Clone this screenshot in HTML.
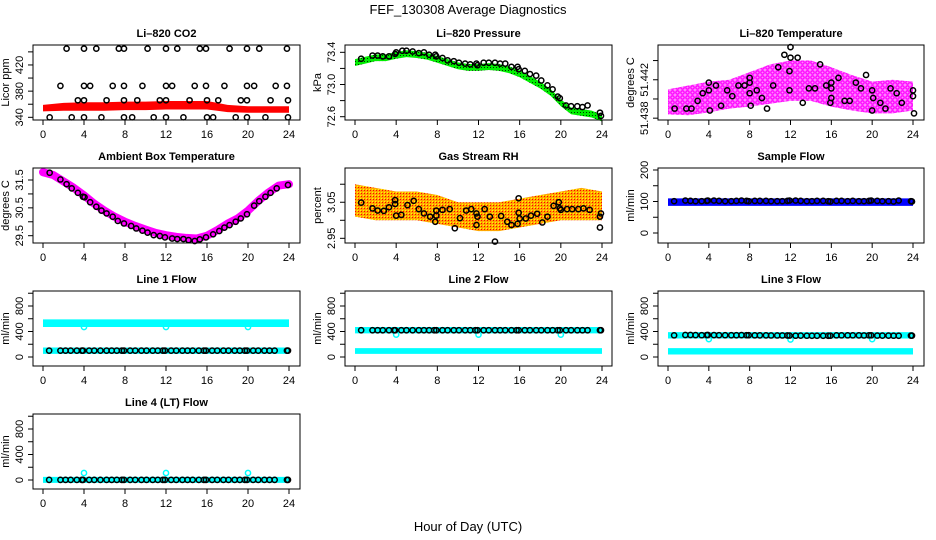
<!DOCTYPE html>
<html><head><meta charset="utf-8"><style>
body{margin:0;background:#fff;}
svg{display:block;font-family:"Liberation Sans",sans-serif;}
</style></head><body>
<svg id="chart" width="936" height="540" viewBox="0 0 936 540" xmlns="http://www.w3.org/2000/svg">
<defs>
<pattern id="pMag" width="5" height="5" patternUnits="userSpaceOnUse"><rect width="5" height="5" fill="#ff88ff"/><circle cx="2.5" cy="2.5" r="1.7" fill="none" stroke="#ff00ff" stroke-width="1.3"/></pattern>
<pattern id="pOr" width="3" height="3" patternUnits="userSpaceOnUse"><rect width="3" height="3" fill="#ffa500"/><rect x="1" y="1" width="1" height="1" fill="#ff0000"/><rect x="0" y="0" width="1" height="1" fill="#ffff00"/></pattern>
<pattern id="pGr" width="3" height="3" patternUnits="userSpaceOnUse"><rect width="3" height="3" fill="#00ee00"/><rect x="1" y="1" width="1" height="1" fill="#003300"/></pattern>
</defs>
<text x="468" y="14" text-anchor="middle" font-size="13">FEF_130308  Average Diagnostics</text>
<text x="468" y="531" text-anchor="middle" font-size="13">Hour of Day (UTC)</text>
</svg>
<script>
// ---- data ----
const co2Hours=[2.3,4.0,5.2,7.4,7.9,10.2,12.0,13.1,15.3,15.9,18.2,19.9,21.1,23.8,1.7,4.0,4.6,6.8,7.9,9.7,12.0,12.6,14.8,15.9,17.7,19.9,20.6,22.7,23.8,3.4,4.0,6.2,7.9,9.2,11.4,12.0,14.3,16.0,17.1,19.3,19.9,22.2,23.9,0.65,2.8,4.0,5.7,7.9,8.7,10.8,12.0,13.7,16.0,16.6,18.8,19.9,21.7,23.9];
const co2Values=[445,445,445,445,445,445,445,445,445,445,445,445,445,445,388,388,388,388,388,388,388,388,388,388,388,388,388,388,388,366,366,366,366,366,366,366,366,366,366,366,366,366,366,340,340,340,340,340,340,340,340,340,340,340,340,340,340,340];
const co2BandHours=[0,2,4,6,8,10,12,14,16,17,18,20,22,24];
const co2BandLow=[349,350,350,350,351,351,352,352,352,350,348,347,347,347];
const co2BandHigh=[359,362,363,363,364,364,365,365,365,362,359,357,357,357];

const presHours=[0.6,1.7,2.2,2.7,3.3,3.9,4.0,4.6,5.0,5.6,6.2,6.7,7.2,7.8,7.9,8.5,9.0,9.6,10.1,10.7,11.2,11.8,11.9,12.5,13.0,13.6,14.1,14.6,15.2,15.8,15.9,16.5,17.0,17.6,18.1,18.7,19.2,19.7,19.9,20.5,21.0,21.6,22.1,22.6,23.8,23.9];
const presValues=[73.32,73.36,73.36,73.35,73.35,73.38,73.40,73.42,73.42,73.41,73.39,73.40,73.37,73.37,73.35,73.33,73.30,73.29,73.27,73.26,73.25,73.26,73.24,73.27,73.27,73.27,73.26,73.26,73.22,73.22,73.19,73.17,73.13,73.11,73.05,72.99,72.94,72.85,72.83,72.74,72.73,72.73,72.72,72.74,72.65,72.61];
const presBandHours=[0,1,2,3,4,5,6,7,8,9,10,11,12,13,14,15,16,17,18,19,20,21,22,23,24];
const presBandMid=[73.28,73.31,73.34,73.34,73.37,73.39,73.38,73.36,73.32,73.28,73.24,73.22,73.22,73.23,73.22,73.19,73.14,73.07,73.00,72.91,72.78,72.68,72.66,72.64,72.59];

const tempHours=[0.65,1.8,2.3,2.9,3.4,4.0,4.0,4.1,4.7,5.2,5.8,6.3,6.9,7.5,8.0,8.0,8.0,8.1,8.7,9.2,9.7,10.3,10.8,11.4,11.9,12.0,12.0,11.9,12.7,13.2,13.8,14.4,14.9,15.5,16.0,16.0,16.0,15.9,16.7,17.3,17.8,18.4,18.9,19.4,20.0,20.1,20.0,20.8,21.3,21.8,22.4,22.9,24.0,24.0,24.1];
const tempValues=[51.4390,51.4390,51.4390,51.4398,51.4406,51.4417,51.4409,51.4388,51.4414,51.4393,51.4409,51.4403,51.4414,51.4414,51.4417,51.4422,51.4406,51.4393,51.4409,51.4401,51.4390,51.4414,51.4433,51.4446,51.4429,51.4443,51.4454,51.4409,51.4443,51.4396,51.4411,51.4411,51.4436,51.4414,51.4417,51.4411,51.4401,51.4396,51.4422,51.4398,51.4398,51.4417,51.4411,51.4425,51.4409,51.4401,51.4388,51.4396,51.4390,51.4411,51.4406,51.4396,51.4409,51.4403,51.4385];
const tempBandHours=[0,2,4,6,8,10,12,14,16,18,20,22,24];
const tempBandLow=[51.4384,51.4383,51.4386,51.4390,51.4392,51.4395,51.4398,51.4398,51.4392,51.4388,51.4385,51.4385,51.4388];
const tempBandHigh=[51.4410,51.4414,51.4418,51.4420,51.4428,51.4436,51.4440,51.4440,51.4433,51.4425,51.4418,51.4420,51.4418];

const ambHours=[0.65,1.7,2.3,2.8,3.4,3.9,4.05,4.6,5.2,5.7,6.2,6.8,7.3,7.9,8.6,9.1,9.7,10.2,10.8,11.4,11.9,12.6,13.1,13.7,14.2,14.8,15.3,15.9,16.6,17.2,17.7,18.2,18.8,19.3,19.9,20.6,21.1,21.7,22.2,22.8,23.9];
const ambValues=[31.76,31.52,31.35,31.20,31.04,30.90,30.88,30.70,30.54,30.40,30.30,30.18,30.03,29.94,29.85,29.76,29.68,29.61,29.52,29.49,29.44,29.40,29.38,29.38,29.34,29.31,29.37,29.44,29.55,29.67,29.79,29.88,30.00,30.12,30.27,30.58,30.74,30.90,31.04,31.20,31.32];
const ambBandHours=[0,1,2,3,4,5,6,7,8,9,10,11,12,13,14,15,16,17,18,19,20,21,22,23,24];
const ambBandMid=[31.78,31.68,31.45,31.22,30.95,30.65,30.40,30.18,30.00,29.85,29.72,29.60,29.52,29.46,29.42,29.40,29.50,29.70,29.93,30.12,30.40,30.75,31.05,31.30,31.35];

const rhHours=[0.6,1.7,2.2,2.8,3.3,3.9,3.9,4.0,4.5,5.1,5.7,6.2,6.7,7.3,7.8,7.9,7.9,8.5,9.2,9.7,10.2,10.8,11.3,11.8,11.9,11.8,12.6,13.1,13.6,14.2,14.8,15.2,15.8,15.9,15.9,16.0,16.6,17.1,17.7,18.2,18.7,19.3,19.8,19.9,20.0,20.6,21.1,21.7,22.2,22.8,23.8,23.9,23.8];
const rhValues=[3.049,3.033,3.027,3.026,3.036,3.056,3.045,3.013,3.015,3.042,3.054,3.031,3.019,3.010,2.996,3.013,3.027,3.029,3.031,2.978,3.006,3.027,3.031,3.019,3.010,2.987,3.031,3.010,2.941,3.012,2.996,2.987,2.990,3.021,3.061,3.005,3.005,3.013,3.018,2.994,3.010,3.040,3.050,3.033,3.029,3.031,3.031,3.031,3.033,3.029,3.010,3.019,2.980];
const rhBandHours=[0,2,4,6,8,10,12,14,16,18,20,22,24];
const rhBandLow=[3.01,3.00,3.00,3.00,2.99,2.98,2.97,2.97,2.98,2.99,3.00,3.00,3.00];
const rhBandHigh=[3.10,3.09,3.08,3.08,3.07,3.05,3.05,3.05,3.06,3.07,3.08,3.09,3.08];

const flowHours=[0.6,1.7,2.2,2.7,3.3,3.8,3.9,4.5,5.0,5.6,6.2,6.7,7.2,7.7,7.9,8.5,9.0,9.6,10.1,10.7,11.2,11.7,11.9,12.5,13.0,13.6,14.1,14.6,15.2,15.7,15.9,16.5,17.0,17.6,18.1,18.7,19.2,19.7,19.9,20.5,21.0,21.6,22.1,22.6,23.8,23.9];
const sampleValues=[101,103,102,101,101,102,103,103,102,101,101,102,103,102,101,102,102,102,101,101,101,102,103,103,102,101,101,102,102,101,100,102,102,101,102,101,101,102,103,102,101,101,100,103,101,100];
const line1Values=flowHours.map(()=>100);
const line2Values=flowHours.map(()=>420);
const line3Values=[340,345,345,343,342,344,345,343,342,342,341,341,343,342,342,340,339,339,338,338,338,337,336,334,335,334,333,333,333,333,334,340,340,340,340,339,338,340,340,336,335,335,334,333,335,335];
const line4Values=flowHours.map(()=>2);
const dipHours=[4,12,20];
const line1Dips=[470,470,470];
const line2Dips=[350,350,350];
const line3Dips=[280,275,280];
const line4Dips=[110,110,110];
const sampleBand=[86,110];
const line1Bands=[[470,590],[50,150]];
const line2Bands=[[370,470],[50,140]];
const line3Bands=[[290,390],[40,140]];
const line4Bands=[[-45,50]];

// ---- drawing ----
const NS="http://www.w3.org/2000/svg";
const svg=document.getElementById('chart');
const cols=[{l:33,r:300,x0:43,x24:289},{l:345,r:612,x0:355,x24:602},{l:658,r:924,x0:668,x24:913}];
const rowTops=[45,168,291,414];
const H=75;
function mk(tag,attrs,parent){const e=document.createElementNS(NS,tag);for(const k in attrs)e.setAttribute(k,attrs[k]);(parent||svg).appendChild(e);return e;}

function panel(col,row,name,title,ytitle,dom,ticks,labels,fmt){
  const c=cols[col],top=rowTops[row],bot=top+H;
  const g=mk('g',{});
  
  
  const xs=h=>c.x0+h*(c.x24-c.x0)/24;
  const ys=v=>bot-(v-dom[0])/(dom[1]-dom[0])*H;
  const plot=mk('g',{},g);
  
  
  const t=mk('text',{x:(c.l+c.r)/2,y:top-8,'text-anchor':'middle','font-size':11,'font-weight':'bold'},g);
  t.textContent=title;
  
  
  const box=mk('rect',{x:c.l,y:top,width:c.r-c.l,height:H,fill:'none',stroke:'#000','stroke-width':1},g);
  
  
  const xa=mk('g',{},g);
  
  
  [0,4,8,12,16,20,24].forEach(h=>{
    mk('line',{x1:xs(h),x2:xs(h),y1:bot,y2:bot+5,stroke:'#000'},xa);
    const l=mk('text',{x:xs(h),y:bot+18,'text-anchor':'middle','font-size':11},xa);
    l.textContent=h;
    
    
  });
  const ya=mk('g',{},g);
  
  
  ticks.forEach(v=>{mk('line',{x1:c.l-5,x2:c.l,y1:ys(v),y2:ys(v),stroke:'#000'},ya);});
  labels.forEach(v=>{
    const l=mk('text',{x:0,y:0,'text-anchor':'middle','font-size':11,transform:`translate(${c.l-10},${ys(v)}) rotate(-90)`},ya);
    l.textContent=fmt?fmt(v):v;
    
    
  });
  const yt=mk('text',{x:0,y:0,'text-anchor':'middle','font-size':11,transform:`translate(${c.l-24},${top+H/2}) rotate(-90)`},g);
  yt.textContent=ytitle;
  
  
  return {xs,ys,plot};
}
function band(p,hours,low,high,fill,nm){
  let pts=hours.map((h,i)=>p.xs(h)+','+p.ys(high[i]));
  for(let i=hours.length-1;i>=0;i--)pts.push(p.xs(hours[i])+','+p.ys(low[i]));
  const e=mk('polygon',{points:pts.join(' '),fill:fill,stroke:'none'},p.plot);
  
  
}
function thick(p,hours,vals,color,w,nm){
  const e=mk('polyline',{points:hours.map((h,i)=>p.xs(h)+','+p.ys(vals[i])).join(' '),fill:'none',stroke:color,'stroke-width':w,'stroke-linejoin':'round','stroke-linecap':'round'},p.plot);
  
  
}
function pts(p,hours,vals,color,nm){
  const g=mk('g',{},p.plot);
  
  
  hours.forEach((h,i)=>{
    const e=mk('circle',{cx:p.xs(h),cy:p.ys(vals[i]),r:2.6,fill:'none',stroke:color,'stroke-width':1.5},g);
    
    
  });
}
const step=(a,b,s)=>{const r=[];for(let v=a;v<=b+1e-9;v+=s)r.push(+v.toFixed(4));return r;};

// CO2
let p=panel(0,0,'co2','Li\u2013820 CO2','Licor ppm',[335.9,450.5],step(340,440,20),[340,380,420]);
band(p,co2BandHours,co2BandLow,co2BandHigh,'#ff0000','co2-raw-band');
pts(p,co2Hours,co2Values,'#000','co2-averages');
// Pressure
p=panel(1,0,'pressure','Li\u2013820 Pressure','kPa',[72.559,73.491],step(72.6,73.4,0.2),[72.6,73.0,73.4],v=>v.toFixed(1));
band(p,presBandHours,presBandMid.map(v=>v-0.05),presBandMid.map(v=>v+0.035),'url(#pGr)','pressure-raw-band');
pts(p,presHours,presValues,'#000','pressure-averages');
// Temperature
p=panel(2,0,'temperature','Li\u2013820 Temperature','degrees C',[51.43781,51.44562],[51.438,51.440,51.442,51.444],[51.438,51.442],v=>v.toFixed(3));
band(p,tempBandHours,tempBandLow,tempBandHigh,'url(#pMag)','temperature-raw-band');
pts(p,tempHours,tempValues,'#000','temperature-averages');
// Ambient
p=panel(0,1,'ambient','Ambient Box Temperature','degrees C',[29.238,31.931],step(29.5,31.5,0.5),[29.5,30.5,31.5],v=>v.toFixed(1));
thick(p,ambBandHours,ambBandMid,'#ff00ff',8,'ambient-raw-line');
pts(p,ambHours,ambValues,'#000','ambient-averages');
// RH
p=panel(1,1,'rh','Gas Stream RH','percent',[2.937,3.145],[2.95,3.00,3.05,3.10],[2.95,3.05],v=>v.toFixed(2));
band(p,rhBandHours,rhBandLow,rhBandHigh,'url(#pOr)','rh-raw-band');
pts(p,rhHours,rhValues,'#000','rh-averages');
// Sample flow
p=panel(2,1,'sample-flow','Sample Flow','ml/min',[-31.7,206.3],step(0,200,50),[0,100,200]);
band(p,[0,24],[sampleBand[0],sampleBand[0]],[sampleBand[1],sampleBand[1]],'#0000ff','sample-flow-raw-band');
pts(p,flowHours,sampleValues,'#000','sample-flow-averages');
// Line flows
const flowDom=[-141,1035],flowTicks=step(0,1000,200),flowLabels=[0,400,800];
[[0,2,'line1-flow','Line 1 Flow',line1Bands,line1Values,line1Dips],
 [1,2,'line2-flow','Line 2 Flow',line2Bands,line2Values,line2Dips],
 [2,2,'line3-flow','Line 3 Flow',line3Bands,line3Values,line3Dips],
 [0,3,'line4-flow','Line 4 (LT) Flow',line4Bands,line4Values,line4Dips]].forEach(d=>{
  const q=panel(d[0],d[1],d[2],d[3],'ml/min',flowDom,flowTicks,flowLabels);
  d[4].forEach(b=>band(q,[0,24],[b[0],b[0]],[b[1],b[1]],'#00ffff',d[2]+'-raw-band'));
  pts(q,dipHours,d[6],'#00ffff',d[2]+'-raw-outliers');
  pts(q,flowHours,d[5],'#000',d[2]+'-averages');
});
</script>
</body></html>
